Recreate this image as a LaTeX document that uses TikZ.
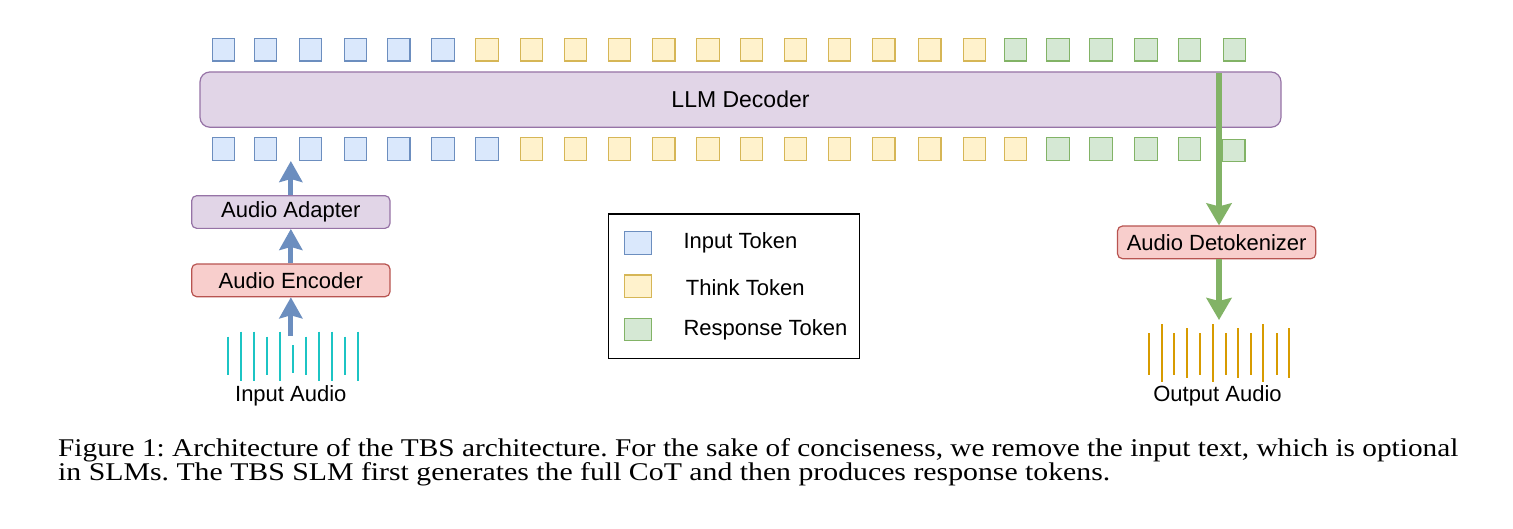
\documentclass[tikz,border=0pt]{standalone}
\usepackage{fontspec}
\setmainfont{Liberation Serif}
\newfontfamily\arialf{Liberation Sans}
\usetikzlibrary{arrows.meta}
\definecolor{blueF}{HTML}{DAE8FC}
\definecolor{blueD}{HTML}{6C8EBF}
\definecolor{yelF}{HTML}{FFF2CC}
\definecolor{yelD}{HTML}{D6B656}
\definecolor{grnF}{HTML}{D5E8D4}
\definecolor{grnD}{HTML}{82B366}
\definecolor{purF}{HTML}{E1D5E7}
\definecolor{purD}{HTML}{9673A6}
\definecolor{redF}{HTML}{F8CECC}
\definecolor{redD}{HTML}{B85450}
\definecolor{waveC}{HTML}{1CC4C4}
\definecolor{waveO}{HTML}{D79B00}
\begin{document}
\begin{tikzpicture}[x=1pt,y=-1pt,
  tok/.style={draw, minimum width=22.5pt, minimum height=22.5pt, inner sep=0pt, line width=1.1pt},
  tin/.style={tok, fill=blueF, draw=blueD},
  tth/.style={tok, fill=yelF, draw=yelD},
  tre/.style={tok, fill=grnF, draw=grnD},
  lgsq/.style={draw, minimum width=27pt, minimum height=22.5pt, inner sep=0pt, line width=1.1pt},
  dtxt/.style={font=\arialf\fontsize{22}{26}\selectfont},
  smallbox/.style={dtxt, rounded corners=5pt, line width=1.2pt, minimum width=198.3pt, minimum height=32.7pt, inner sep=0pt},
  barrow/.style={draw=blueD, line width=5pt, -{Stealth[width=23pt,length=21pt,inset=3pt]}},
  garrow/.style={draw=grnD, line width=5.5pt, -{Stealth[width=25pt,length=22pt,inset=3pt]}},
  wavein/.style={draw=waveC, line width=2pt},
  waveout/.style={draw=waveO, line width=2pt},
  captxt/.style={anchor=base west, inner sep=0pt, font=\fontsize{25.5}{25.5}\selectfont}
]
\useasboundingbox[fill=white] (0,0) rectangle (1513,528);

% decoder
\node[draw=purD, fill=purF, line width=1.2pt, rounded corners=10pt, minimum width=1081pt, minimum height=55.3pt, inner sep=0pt, font=\arialf\fontsize{23}{27}\selectfont] (dec) at (740.5,99.6) {LLM Decoder};

% top tokens
\foreach \x/\s [count=\i] in {223.5/tin,265.3/tin,310.5/tin,355.5/tin,398.7/tin,443/tin,
  487/tth,531.3/tth,575.3/tth,619.5/tth,663.7/tth,707.8/tth,751.3/tth,795.3/tth,839.5/tth,883.7/tth,929.7/tth,974.5/tth,
  1015.3/tre,1058/tre,1100.8/tre,1146/tre,1189.5/tre,1234.5/tre}
  \node[\s] (t\i) at (\x,49.7) {};

% bottom tokens
\foreach \x/\s [count=\i] in {223.5/tin,265.3/tin,310.5/tin,355.5/tin,398.7/tin,443/tin,487/tin,
  531.3/tth,575.3/tth,619.5/tth,663.7/tth,707.8/tth,751.3/tth,795.3/tth,839.5/tth,883.7/tth,929.7/tth,974.5/tth,1015.3/tth,
  1058/tre,1100.8/tre,1146/tre,1189.5/tre}
  \node[\s] (b\i) at (\x,148.8) {};
\node[tre] (b24) at (1233.7,150.3) {};

% left column
\node[smallbox, draw=purD, fill=purF] (adp) at (290.85,212) {Audio Adapter};
\node[smallbox, draw=redD, fill=redF] (enc) at (290.85,280.35) {Audio Encoder};

% input waves
\foreach \x/\a/\b in {228.3/336.7/375,241/331.7/380.7,254/331.7/380.7,267/336.7/375,280/331.7/380.7,293.3/345/373.3,306/336.7/375,319/331.7/380.7,331.7/331.7/380.7,344.7/336.7/375,357.7/331.7/380.7}
  \draw[wavein] (\x,\a) -- (\x,\b);
\node[dtxt, inner sep=0pt] (inaud) at (290.8,396) {Input Audio};

\coordinate (inw) at (290.85,336);
\coordinate (tipA) at (290.85,161);
\draw[barrow] (inw) -- (enc.south);
\draw[barrow] (enc.north) -- (adp.south);
\draw[barrow] (adp.north) -- (tipA);

% legend
\draw[line width=1.1pt] (608.3,214) rectangle (859.3,358.3);
\node[lgsq, fill=blueF, draw=blueD] (l1) at (638,243) {};
\node[lgsq, fill=yelF, draw=yelD] (l2) at (638,286.2) {};
\node[lgsq, fill=grnF, draw=grnD] (l3) at (638,329.5) {};
\node[dtxt, anchor=west, inner sep=0pt] (lt1) at (683.3,243.3) {Input Token};
\node[dtxt, anchor=west, inner sep=0pt] (lt2) at (685.7,287.5) {Think Token};
\node[dtxt, anchor=west, inner sep=0pt] (lt3) at (683.3,330) {Response Token};

% right column
\node[smallbox, draw=redD, fill=redF] (det) at (1216.65,242.35) {Audio Detokenizer};
\coordinate (gtop) at (1219,73);
\coordinate (gbot) at (1219,320);
\draw[garrow] (gtop) -- (gtop |- det.north);
\draw[garrow] (det.south -| gtop) -- (gbot);

\foreach \x/\a/\b in {1149/333.3/375,1161.7/324/381.7,1174.3/333.3/375,1187.3/328.3/378.3,1200/333.3/375,1213.3/324/381.7,1226/333.3/375,1238.3/328.3/378.3,1251/333.3/375,1263.3/324/381.7,1276.7/333.3/375,1289/328.3/378.3}
  \draw[waveout] (\x,\a) -- (\x,\b);
\node[dtxt, inner sep=0pt] (outaud) at (1217.5,396) {Output Audio};

% caption
\node[captxt] (cap1) at (58,456.5) {\frenchspacing\resizebox{1400pt}{\height}{Figure 1: Architecture of the TBS architecture. For the sake of conciseness, we remove the input text, which is optional}};
\node[captxt] (cap2) at (58,480.5) {\frenchspacing\resizebox{1052pt}{\height}{in SLMs. The TBS SLM first generates the full CoT and then produces response tokens.}};
\end{tikzpicture}
\end{document}
